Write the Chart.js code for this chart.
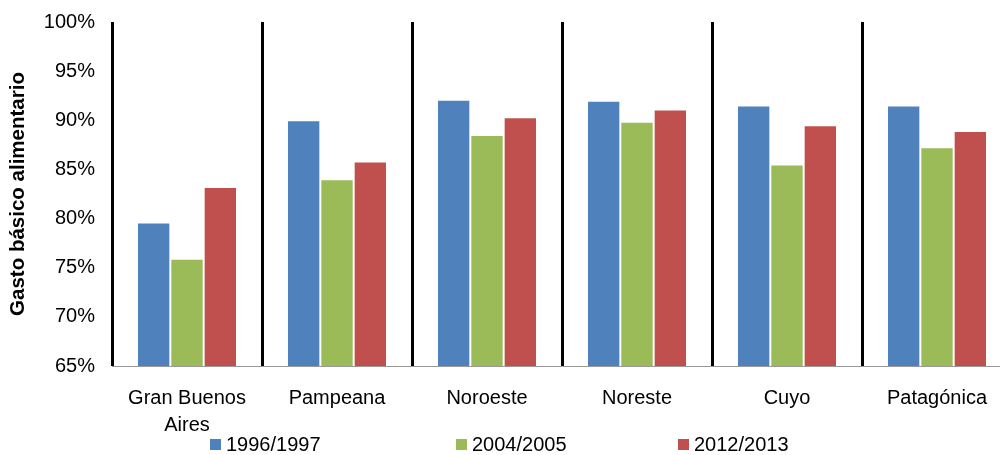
<!DOCTYPE html>
<html>
<head>
<meta charset="utf-8">
<script src="https://cdn.jsdelivr.net/npm/chart.js@4/dist/chart.umd.min.js"></script>
<style>
    html, body { margin: 0; padding: 0; background: #fff; overflow: hidden; }
    #wrap { width: 1012px; height: 455px; }
</style>
</head>
<body>
<div id="wrap"><canvas id="gastoChart" width="1012" height="455"></canvas></div>
<script>
// regiones y valores (% del gasto)
const regiones = [["Gran Buenos", "Aires"], "Pampeana", "Noroeste", "Noreste", "Cuyo", "Patagónica"];
const periodos = ["1996/1997", "2004/2005", "2012/2013"];
const serie1996 = [79.6, 90.0, 92.1, 92.0, 91.5, 91.5];
const serie2004 = [75.9, 84.0, 88.5, 89.85, 85.5, 87.25];
const serie2012 = [83.2, 85.8, 90.3, 91.1, 89.5, 88.9];
const colores = ["#4F81BD", "#9BBB59", "#C0504D"];

const fuente = "'Liberation Sans', Arial, Helvetica, sans-serif";

// leyenda dibujada a mano, con el espaciado ancho del original
const leyendaX = [210, 456, 678];
const leyendaPlugin = {
    id: "leyendaExcel",
    afterDraw(chart) {
        const ctx = chart.ctx;
        ctx.save();
        ctx.font = "20px " + fuente;
        ctx.textBaseline = "middle";
        chart.data.datasets.forEach((ds, i) => {
            const x = leyendaX[i];
            const y = 444;
            ctx.fillStyle = ds.backgroundColor;
            ctx.fillRect(x, y - 5, 11, 11);
            ctx.fillStyle = "#000";
            ctx.fillText(ds.label, x + 16, y + 1);
        });
        ctx.restore();
    }
};

const series = [serie1996, serie2004, serie2012];
const datasets = periodos.map((p, i) => ({
    label: p,
    data: series[i],
    backgroundColor: colores[i],
    borderColor: "rgba(255,255,255,0.8)",
    borderWidth: 1,
    categoryPercentage: 0.667,
    barPercentage: 1.0
}));

const ctx = document.getElementById("gastoChart").getContext("2d");
new Chart(ctx, {
    type: "bar",
    data: { labels: regiones, datasets: datasets },
    options: {
        responsive: false,
        animation: false,
        layout: { padding: { top: 22, left: 0, right: 0, bottom: 0 } },
        plugins: {
            legend: { display: false },
            tooltip: { enabled: false }
        },
        scales: {
            x: {
                offset: true,
                grid: { display: true, offset: true, color: "#000", lineWidth: 3, drawTicks: false },
                border: { display: true, color: "#999", width: 1 },
                ticks: { color: "#000", font: { family: fuente, size: 20, lineHeight: 1.35 }, padding: 19, maxRotation: 0 },
                afterFit(scale) { scale.height = 89; }
            },
            y: {
                min: 65,
                max: 100,
                grid: { display: false, drawTicks: false },
                border: { display: false },
                ticks: {
                    stepSize: 5,
                    color: "#000",
                    font: { family: fuente, size: 20 },
                    padding: 17,
                    callback: v => v + "%"
                },
                title: {
                    display: true,
                    text: "Gasto básico alimentario",
                    color: "#000",
                    font: { family: fuente, size: 20.5, weight: "bold" },
                    padding: { top: 6, bottom: 0 }
                },
                afterFit(scale) {
                    scale.width = 112;
                    scale.paddingTop = 0;
                    scale.paddingBottom = 0;
                }
            }
        }
    },
    plugins: [leyendaPlugin]
});
</script>
</body>
</html>
